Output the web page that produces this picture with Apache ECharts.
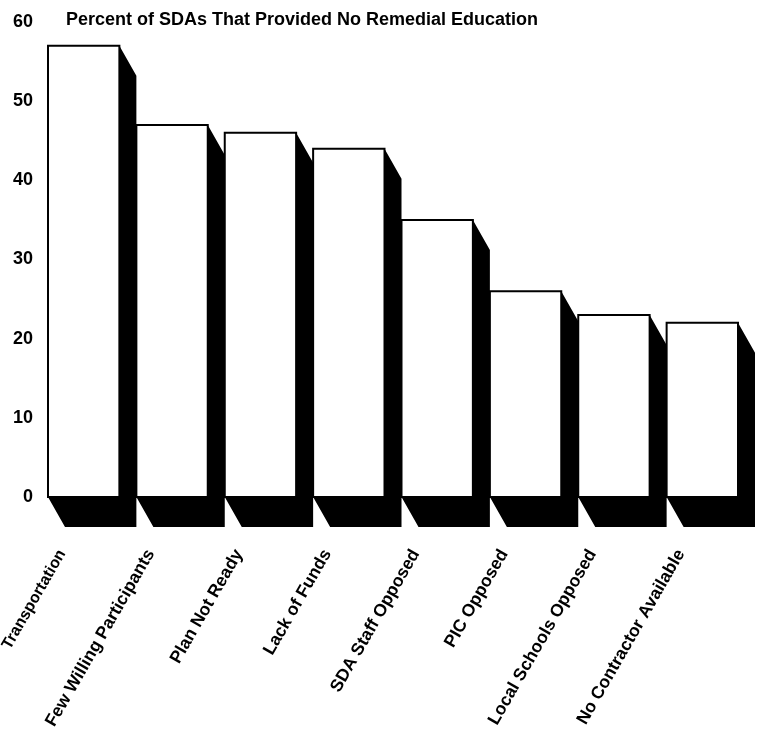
<!DOCTYPE html>
<html>
<head>
<meta charset="utf-8">
<script src="https://cdn.jsdelivr.net/npm/echarts@6/dist/echarts.min.js"></script>
<style>
  html, body { margin: 0; padding: 0; background: #fff; }
  #chart { width: 757px; height: 738px; }
</style>
</head>
<body>
<div id="chart"></div>
<script>
const titleText = 'Percent of SDAs That Provided No Remedial Education';
const categories = [
  'Transportation',
  'Few Willing Participants',
  'Plan Not Ready',
  'Lack of Funds',
  'SDA Staff Opposed',
  'PIC Opposed',
  'Local Schools Opposed',
  'No Contractor Available'
];
const percents = [57, 47, 46, 44, 35, 26, 23, 22];
const yTicks = { min: 0, max: 60, interval: 10 };

// depth of the black 3D extrusion, px
const DX = 17;
const DY = 30;
const FONT = 'Liberation Sans, Arial, Helvetica, sans-serif';

const chart = echarts.init(document.getElementById('chart'));

const renderBar = (params, api) => {
  const idx = api.value(0);
  const top = api.coord([idx, api.value(1)]);
  const base = api.coord([idx, 0]);
  const band = api.size([1, 0])[0];
  const x0 = top[0] - band / 2;
  const x1 = x0 + band - DX;
  return {
    type: 'group',
    children: [
      {
        type: 'polygon',
        shape: {
          points: [
            [x1, top[1]],
            [x1 + DX, top[1] + DY],
            [x1 + DX, base[1] + DY],
            [x0 + DX, base[1] + DY],
            [x0, base[1]],
            [x1, base[1]]
          ]
        },
        style: { fill: '#000' }
      },
      {
        type: 'rect',
        shape: { x: x0, y: top[1], width: x1 - x0, height: base[1] - top[1] },
        style: { fill: '#fff', stroke: '#000', lineWidth: 2 }
      }
    ]
  };
};

chart.setOption({
  animation: false,
  backgroundColor: '#fff',
  title: {
    text: titleText,
    left: 66,
    top: 11,
    padding: 0,
    textStyle: { fontFamily: FONT, fontSize: 18, fontWeight: 'bold', color: '#000' }
  },
  grid: { left: 48, right: 2, top: 22, bottom: 241, outerBoundsMode: 'none' },
  xAxis: {
    type: 'category',
    data: categories,
    axisLine: { show: false },
    axisTick: { show: false },
    splitLine: { show: false },
    axisLabel: {
      interval: 0,
      rotate: 60,
      margin: 2,
      // pulls each label's end left of the bar centre
      padding: [0, 60, 0, 0],
      // first label is set tighter in the original so it fits the left edge
      formatter: (v, i) => (i === 0 ? '{s|' + v + '}' : v),
      rich: {
        s: { fontFamily: FONT, fontSize: 16, fontWeight: 'bold', color: '#000' }
      },
      fontFamily: FONT,
      fontSize: 17.5,
      fontWeight: 'bold',
      color: '#000'
    }
  },
  yAxis: {
    type: 'value',
    min: yTicks.min,
    max: yTicks.max,
    interval: yTicks.interval,
    axisLine: { show: false },
    axisTick: { show: false },
    splitLine: { show: false },
    axisLabel: {
      margin: 15,
      fontFamily: FONT,
      fontSize: 18,
      fontWeight: 'bold',
      color: '#000'
    }
  },
  series: [
    {
      type: 'custom',
      renderItem: renderBar,
      clip: false,
      encode: { x: 0, y: 1 },
      data: percents.map((v, i) => [i, v])
    }
  ]
});
</script>
</body>
</html>
